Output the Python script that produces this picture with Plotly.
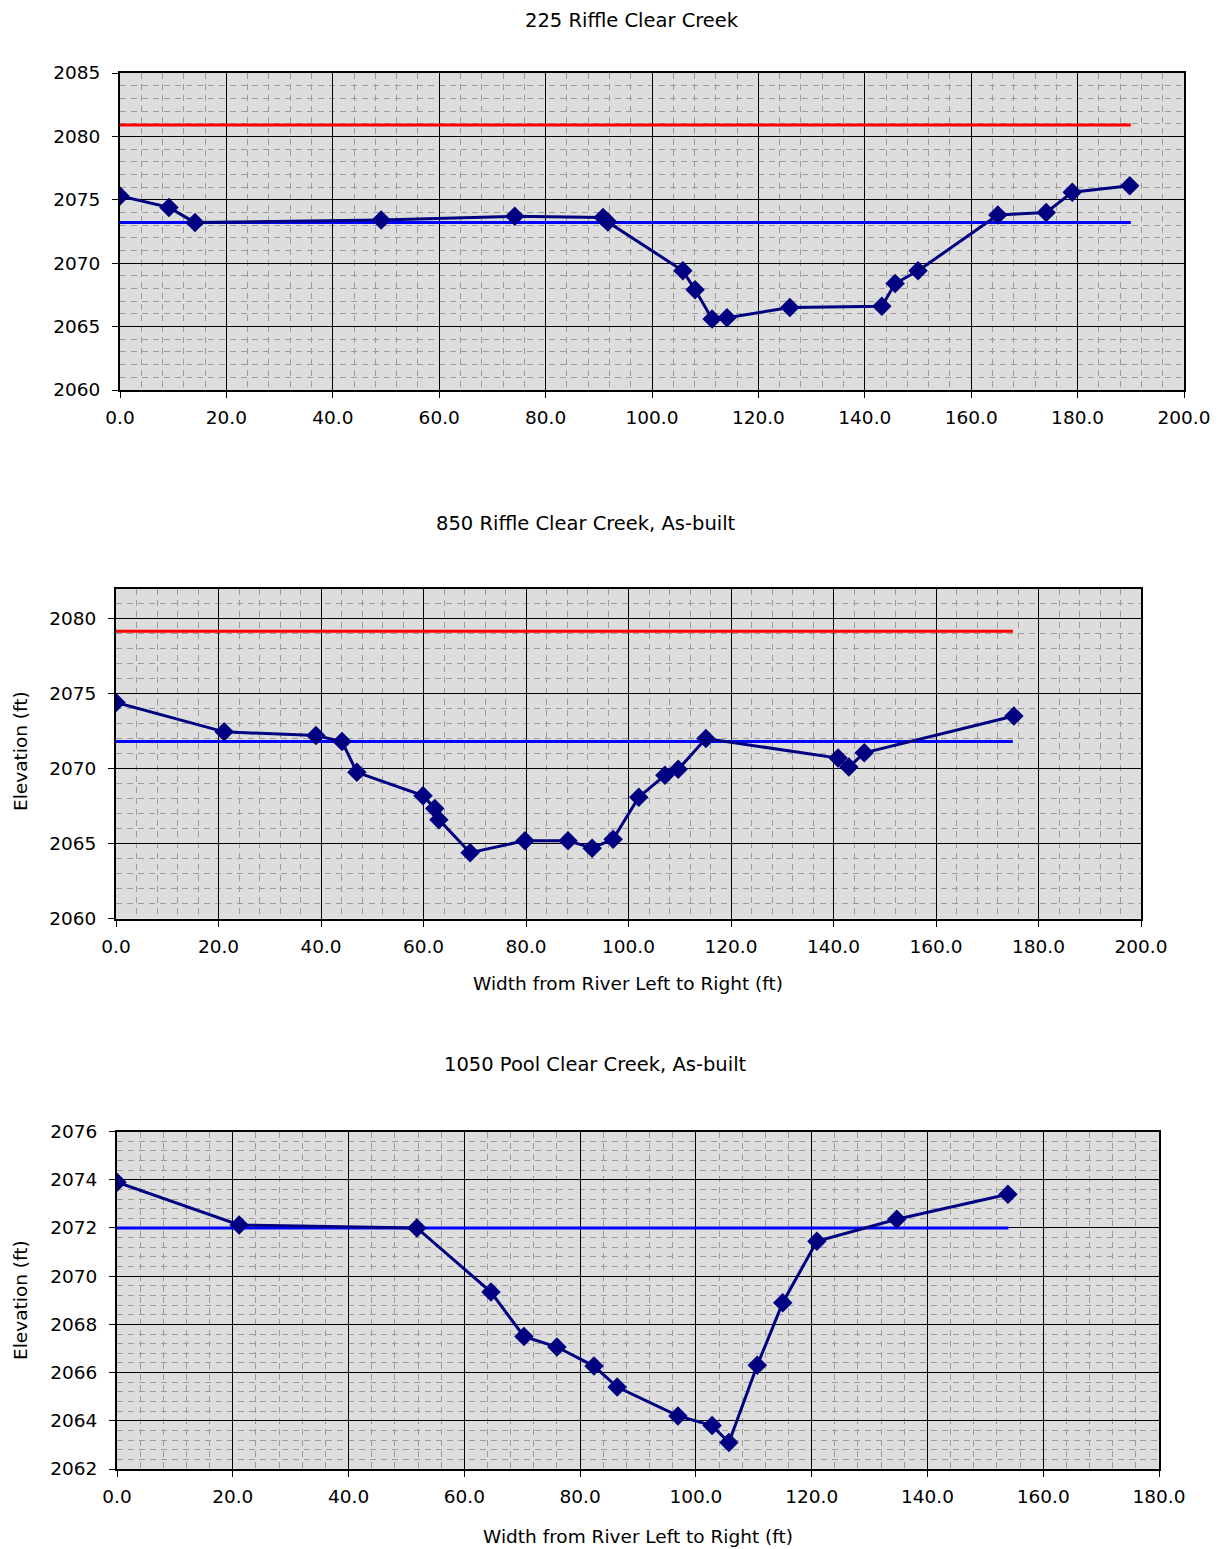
import plotly.graph_objects as go

W, H = 1229, 1549
OFF = 8  # page body margin offset of the rendered figure

# ---------------- data ----------------
# Chart 1: 225 Riffle Clear Creek
c1_x = [0.0, 9.2, 14.1, 49.1, 74.2, 90.8, 91.7, 105.8, 108.1, 111.3, 114.1,
        125.9, 143.2, 145.7, 150.0, 165.0, 174.1, 179.0, 189.8]
c1_y = [2075.3, 2074.4, 2073.2, 2073.4, 2073.7, 2073.6, 2073.25, 2069.4, 2067.9,
        2065.6, 2065.7, 2066.5, 2066.6, 2068.4, 2069.4, 2073.8, 2074.0, 2075.6, 2076.1]
c1_red_x = [0.0, 190.0]
c1_red_y = [2080.9, 2080.9]
c1_blue_x = [0.0, 190.0]
c1_blue_y = [2073.2, 2073.2]

# Chart 2: 850 Riffle Clear Creek, As-built
c2_x = [0.0, 21.1, 39.0, 44.1, 47.0, 59.9, 62.2, 63.0, 69.1, 79.8, 88.2, 92.9,
        97.0, 102.0, 107.1, 109.7, 115.1, 140.9, 143.0, 146.0, 175.2]
c2_y = [2074.4, 2072.45, 2072.2, 2071.8, 2069.75, 2068.2, 2067.35, 2066.6, 2064.4,
        2065.2, 2065.2, 2064.7, 2065.3, 2068.1, 2069.55, 2069.95, 2072.0, 2070.7,
        2070.1, 2071.05, 2073.5]
c2_red_x = [0.0, 175.0]
c2_red_y = [2079.15, 2079.15]
c2_blue_x = [0.0, 175.0]
c2_blue_y = [2071.8, 2071.8]

# Chart 3: 1050 Pool Clear Creek, As-built
c3_x = [0.0, 21.1, 51.8, 64.6, 70.3, 76.0, 82.4, 86.4, 96.9, 102.8, 105.7,
        110.6, 115.0, 120.9, 134.7, 153.9]
c3_y = [2073.9, 2072.12, 2072.0, 2069.34, 2067.5, 2067.06, 2066.27, 2065.4,
        2064.2, 2063.8, 2063.1, 2066.3, 2068.9, 2071.45, 2072.36, 2073.4]
c3_blue_x = [0.0, 154.0]
c3_blue_y = [2072.0, 2072.0]

titles = ["225 Riffle Clear Creek", "850 Riffle Clear Creek, As-built",
          "1050 Pool Clear Creek, As-built"]
x_title = "Width from River Left to Right (ft)"
y_title = "Elevation (ft)"

# ---------------- layout geometry (pixels) ----------------
FONT = "DejaVu Sans"
FS = 18.5
FS_T = 19.5
NAVY = "#000080"


def px_x(p):
    return (p - OFF) / W


def px_y(p):
    return 1 - (p - OFF) / H


panels = [
    dict(xd=(120, 1184), yd=(73, 390), xr=[0, 200], yr=[2060, 2085], ydt=5, ymin=1),
    dict(xd=(116, 1141), yd=(588.5, 918.7), xr=[0, 200], yr=[2060, 2082], ydt=5, ymin=1),
    dict(xd=(117, 1159), yd=(1131.5, 1469), xr=[0, 180], yr=[2062, 2076], ydt=2, ymin=0.4),
]

fig = go.Figure()

series = [
    (c1_x, c1_y, [(c1_red_x, c1_red_y, "#FF0000"), (c1_blue_x, c1_blue_y, "#0000FF")]),
    (c2_x, c2_y, [(c2_red_x, c2_red_y, "#FF0000"), (c2_blue_x, c2_blue_y, "#0000FF")]),
    (c3_x, c3_y, [(c3_blue_x, c3_blue_y, "#0000FF")]),
]

for i, (sx, sy, hlines) in enumerate(series):
    xa = "x" if i == 0 else f"x{i+1}"
    ya = "y" if i == 0 else f"y{i+1}"
    for hx, hy, col in hlines:
        fig.add_trace(go.Scatter(x=hx, y=hy, mode="lines", xaxis=xa, yaxis=ya,
                                 line=dict(color=col, width=3), hoverinfo="skip"))
    fig.add_trace(go.Scatter(x=sx, y=sy, mode="lines+markers", xaxis=xa, yaxis=ya,
                             line=dict(color=NAVY, width=3),
                             marker=dict(symbol="diamond", size=15, color=NAVY,
                                         line=dict(width=0)),
                             hoverinfo="skip"))

layout = dict(
    width=W, height=H,
    margin=dict(l=0, r=0, t=0, b=0, pad=0, autoexpand=False),
    paper_bgcolor="white",
    plot_bgcolor="#DDDDDD",
    showlegend=False,
    font=dict(family=FONT, size=FS, color="black"),
)

for i, p in enumerate(panels):
    xk = "xaxis" if i == 0 else f"xaxis{i+1}"
    yk = "yaxis" if i == 0 else f"yaxis{i+1}"
    xa_anchor = "y" if i == 0 else f"y{i+1}"
    ya_anchor = "x" if i == 0 else f"x{i+1}"
    layout[xk] = dict(
        domain=[px_x(p["xd"][0]), px_x(p["xd"][1])],
        anchor=xa_anchor, range=p["xr"], dtick=20, tick0=0, automargin=False,
        tickformat=".1f", showgrid=True, gridcolor="#000000", gridwidth=1,
        showline=True, linecolor="#000000", linewidth=2, mirror=True,
        ticks="outside", ticklen=6, tickcolor="#000000", tickwidth=1,
        ticklabelstandoff=4, zeroline=False,
        minor=dict(dtick=4, showgrid=True, gridcolor="#9C9C9C", gridwidth=1,
                   griddash="6px,5px"),
        tickfont=dict(family=FONT, size=FS, color="black"),
    )
    layout[yk] = dict(
        domain=[px_y(p["yd"][1]), px_y(p["yd"][0])],
        anchor=ya_anchor, range=p["yr"], dtick=p["ydt"], tick0=p["yr"][0],
        automargin=False,
        showgrid=True, gridcolor="#000000", gridwidth=1,
        showline=True, linecolor="#000000", linewidth=2, mirror=True,
        ticks="outside", ticklen=6, tickcolor="#000000", tickwidth=1,
        ticklabelstandoff=8, zeroline=False,
        minor=dict(dtick=p["ymin"], showgrid=True, gridcolor="#9C9C9C", gridwidth=1,
                   griddash="6px,5px"),
        tickfont=dict(family=FONT, size=FS, color="black"),
    )

fig.update_layout(**layout)

# titles and axis titles as annotations
ann = []
# first title anchored to the figure top so it is not clipped
ann.append(dict(text=titles[0], x=px_x(632), y=1.0, xref="paper", yref="paper",
                xanchor="center", yanchor="top", showarrow=False, borderpad=0,
                font=dict(family=FONT, size=FS_T, color="black")))
for t, (cx, cy) in zip(titles[1:], [(586, 523), (595, 1064)]):
    ann.append(dict(text=t, x=px_x(cx), y=px_y(cy), xref="paper", yref="paper",
                    xanchor="center", yanchor="middle", showarrow=False,
                    font=dict(family=FONT, size=FS_T, color="black")))
for cx, cy in [(628, 983), (638, 1536)]:
    ann.append(dict(text=x_title, x=px_x(cx), y=px_y(cy), xref="paper", yref="paper",
                    xanchor="center", yanchor="middle", showarrow=False,
                    font=dict(family=FONT, size=FS, color="black")))
for cx, cy in [(20, 751), (20, 1300)]:
    ann.append(dict(text=y_title, x=px_x(cx), y=px_y(cy), xref="paper", yref="paper",
                    xanchor="center", yanchor="middle", showarrow=False, textangle=-90,
                    font=dict(family=FONT, size=FS, color="black")))
fig.update_layout(annotations=ann)

fig.write_html("out.html")
